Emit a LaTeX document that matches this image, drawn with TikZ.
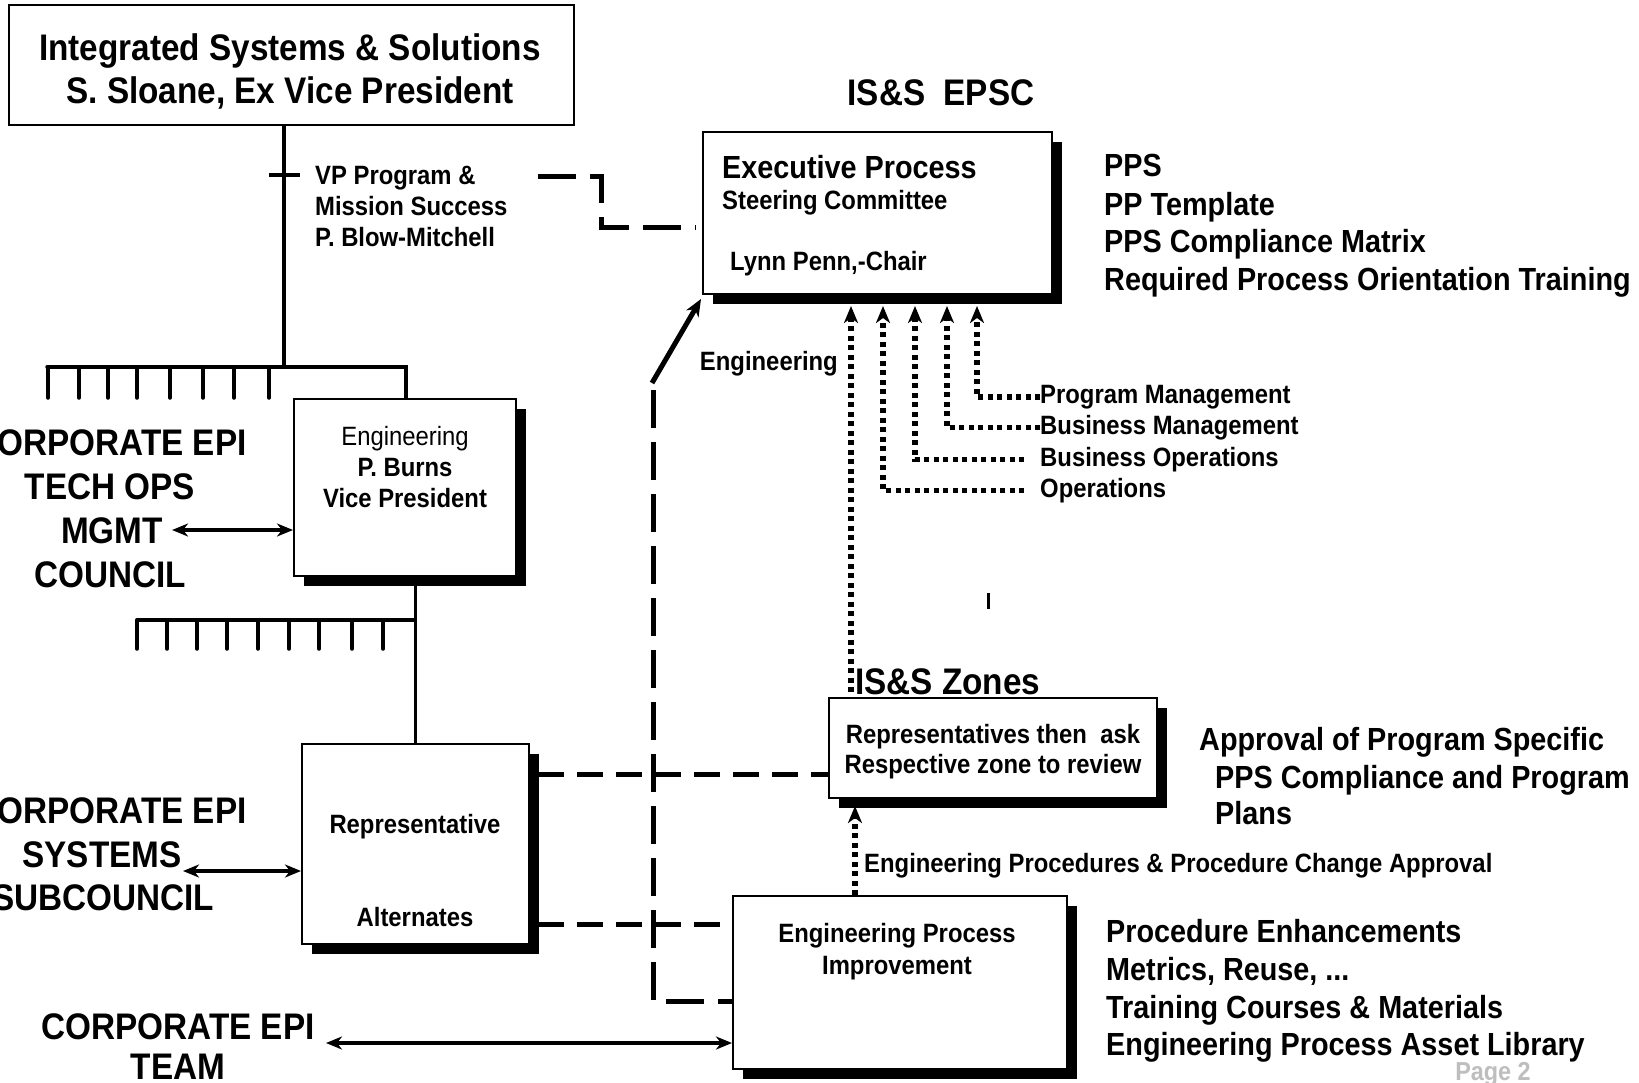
\documentclass[tikz,border=0pt]{standalone}
\usepackage{fontspec}
\setmainfont{Liberation Sans}[FakeStretch=0.9]
\usetikzlibrary{arrows.meta,shadows}
\definecolor{pagegray}{RGB}{190,190,190}
\newcommand\fsL{\fontsize{37}{44}\selectfont\bfseries}
\newcommand\fsM{\fontsize{32}{38}\selectfont\bfseries}
\newcommand\fsS{\fontsize{26.5}{31}\selectfont\bfseries}
\newcommand\fsR{\fontsize{26.5}{31}\selectfont}

\begin{document}
\begin{tikzpicture}[x=1pt,y=-1pt,
  box/.style={draw,line width=2pt,fill=white,inner sep=0pt,anchor=north west},
  shbox/.style={box,general shadow={fill=black,shadow xshift=10pt,shadow yshift=-10pt}},
  txt/.style={inner sep=0pt,anchor=base west},
  ctxt/.style={inner sep=0pt,anchor=base},
  rtxt/.style={inner sep=0pt,anchor=base east},
  org/.style={line width=3.5pt},
  head/.style={-{Stealth[length=17pt,width=14pt,inset=5pt]}},
  both/.style={{Stealth[length=16pt,width=13pt,inset=5pt]}-{Stealth[length=16pt,width=13pt,inset=5pt]},line width=3.5pt},
  longdash/.style={line width=5pt,dash pattern=on 38pt off 14pt},
  shortdash/.style={line width=5pt,dash pattern=on 26pt off 13pt},
  dots/.style={line width=5.5pt,dash pattern=on 5pt off 4.5pt},
]
\useasboundingbox[fill=white] (0,0) rectangle (1639,1082);

% ---------------- boxes ----------------
\node[box,minimum width=565pt,minimum height=120pt] (top) at (8,4) {};
\node[shbox,minimum width=349pt,minimum height=162pt] (exec) at (702,131) {};
\node[shbox,minimum width=222pt,minimum height=177pt] (eng) at (293,398) {};
\node[shbox,minimum width=227pt,minimum height=200pt] (rep) at (301,743) {};
\node[shbox,minimum width=328pt,minimum height=100pt] (zones) at (828,697) {};
\node[shbox,minimum width=334pt,minimum height=173pt] (epi) at (732,895) {};

% ---------------- box texts ----------------
\node[ctxt] (top1) at (290,60) {\fsL Integrated Systems \& Solutions};
\node[ctxt] (top2) at (290,103) {\fsL S. Sloane, Ex Vice President};

\node[txt] (ex1) at (722,178.5) {\fsM Executive Process};
\node[txt] (ex2) at (722,209) {\fsS Steering Committee};
\node[txt] (ex3) at (730,270) {\fsS Lynn Penn,-Chair};

\node[ctxt] (en1) at (405,445.5) {\fsR Engineering};
\node[ctxt] (en2) at (405,476.5) {\fsS P. Burns};
\node[ctxt] (en3) at (405,507.5) {\fsS Vice President};

\node[ctxt] (re1) at (415,833.5) {\fsS Representative};
\node[ctxt] (re2) at (415,926.5) {\fsS Alternates};

\node[ctxt] (zo1) at (993,743.5) {\fsS Representatives then\ \ ask};
\node[ctxt] (zo2) at (993,773.5) {\fsS Respective zone to review};

\node[ctxt] (ep1) at (897,942.5) {\fsS Engineering Process};
\node[ctxt] (ep2) at (897,974.5) {\fsS Improvement};

% ---------------- free texts ----------------
\node[ctxt] (epsc) at (941,105) {\fsL IS\&S\ \ EPSC};

\node[txt] (vp1) at (315,184.5) {\fsS VP Program \&};
\node[txt] (vp2) at (315,215.5) {\fsS Mission Success};
\node[txt] (vp3) at (315,246.5) {\fsS P. Blow-Mitchell};

\node[txt] (pp1) at (1104,176.5) {\fsM PPS};
\node[txt] (pp2) at (1104,215.5) {\fsM PP Template};
\node[txt] (pp3) at (1104,252.5) {\fsM PPS Compliance Matrix};
\node[txt] (pp4) at (1104,290.5) {\fsM Required Process Orientation Training};

\node[rtxt] (englab) at (838,370.5) {\fsS Engineering};
\node[txt] (pm) at (1040,403.5) {\fsS Program Management};
\node[txt] (bm) at (1040,434.5) {\fsS Business Management};
\node[txt] (bo) at (1040,466.5) {\fsS Business Operations};
\node[txt] (op) at (1040,497.5) {\fsS Operations};

\node[txt] (zl) at (855,694) {\fsL IS\&S Zones};

\node[txt] (ap1) at (1199,750.5) {\fsM Approval of Program Specific};
\node[txt] (ap2) at (1215,788.5) {\fsM PPS Compliance and Program};
\node[txt] (ap3) at (1215,824.5) {\fsM Plans};

\node[txt] (pcl) at (864,872.5) {\fsS Engineering Procedures \& Procedure Change Approval};

\node[txt] (li1) at (1106,942.5) {\fsM Procedure Enhancements};
\node[txt] (li2) at (1106,980.5) {\fsM Metrics, Reuse, ...};
\node[txt] (li3) at (1106,1018.5) {\fsM Training Courses \& Materials};
\node[txt] (li4) at (1106,1055.5) {\fsM Engineering Process Asset Library};

\node[ctxt] (tc1) at (110,455) {\fsL CORPORATE EPI};
\node[ctxt] (tc2) at (110,499) {\fsL TECH OPS};
\node[ctxt] (tc3) at (112,543) {\fsL MGMT};
\node[ctxt] (tc4) at (110,587) {\fsL COUNCIL};

\node[ctxt] (sc1) at (110,823) {\fsL CORPORATE EPI};
\node[ctxt] (sc2) at (102,867) {\fsL SYSTEMS};
\node[ctxt] (sc3) at (103,910) {\fsL SUBCOUNCIL};

\node[ctxt] (tm1) at (178,1039) {\fsL CORPORATE EPI};
\node[ctxt] (tm2) at (178,1079) {\fsL TEAM};

\node[ctxt,text=pagegray] (pg) at (1493,1080) {\fontsize{26}{30}\selectfont\bfseries Page 2};

% ---------------- organisation lines ----------------
\coordinate (bar1) at (284,367);
\draw[org] (top.south -| bar1) -- (bar1);
\draw[org] (269,175) -- (300,175);
\draw[org,line cap=round] (47,367) -- (406,367) -- (406,398);
\foreach \x in {48,79,108,137,170,203,234,269}
  \draw[org,line cap=round] (\x,367) -- (\x,398);

\coordinate (bar2) at (414,620);
\draw[org] (rep.north |- eng.south) -- (rep.north);
\draw[org,line cap=round] (137,620) -- (bar2);
\foreach \x in {137,167,197,227,258,289,319,352,383}
  \draw[org,line cap=round] (\x,620) -- (\x,649);

% ---------------- council links ----------------
\draw[both] ([xshift=9pt]tc3.east |- 0,530) -- (eng.west |- 0,530);
\coordinate (sa) at (183,871);
\draw[both] (sa) -- (rep.west |- sa);
\coordinate (ta) at (326,1043);
\draw[both] (ta) -- (epi.west |- ta);

% ---------------- dashed links ----------------
\coordinate (vpa) at (538,176);
\coordinate (vpb) at (601,176);
\coordinate (vpc) at (601,227);
\draw[longdash] (vpa) -- (vpb) -- (vpc) -- ([xshift=-6pt]exec.west |- vpc);

\coordinate (r1) at (538,774);
\draw[shortdash] (r1) -- (zones.west |- r1);
\coordinate (r2) at (538,924);
\draw[shortdash] (r2) -- (epi.west |- r2);

\coordinate (vd) at (653,390);
\coordinate (vdb) at (653,1001);
\draw[longdash] (vd) -- (vdb) -- (epi.west |- vdb);

% ---------------- engineering arrow ----------------
\coordinate (ea) at (652,383);
\draw[line width=5pt,head] (ea) -- ([xshift=-1pt,yshift=-4pt]exec.south west);

% ---------------- dotted inputs to the committee ----------------
\coordinate (t1) at (851,306);
\coordinate (t2) at (883,306);
\coordinate (t3) at (915,306);
\coordinate (t4) at (947,306);
\coordinate (t5) at (977,306);
\draw[dots,head] (pm.west) -| (t5);
\draw[dots,head] (bm.west) -| (t4);
\draw[dots,head] ([xshift=-16pt]bo.west) -| (t3);
\draw[dots,head] ([xshift=-16pt]op.west) -| (t2);
\coordinate (z0) at (851,692);
\draw[dots,head] (z0) -- (t1);

\coordinate (e0) at (855,895);
\draw[dots,head] (e0) -- (e0 |- 0,806);

% small stray mark
\coordinate (m0) at (988,593);
\coordinate (m1) at (988,609);
\draw[line width=3pt] (m0) -- (m1);

\end{tikzpicture}
\end{document}
